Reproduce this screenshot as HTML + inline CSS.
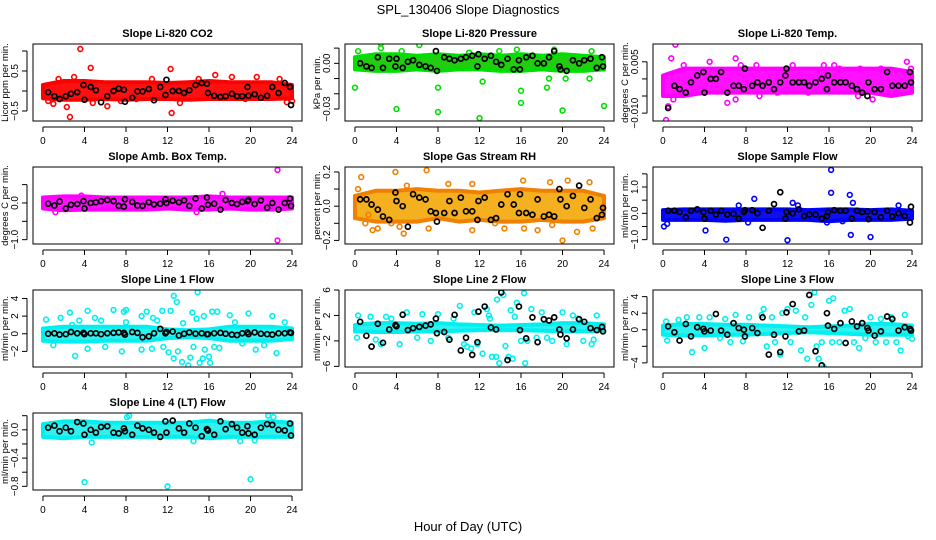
<!DOCTYPE html>
<html><head><meta charset="utf-8"><style>
html,body{margin:0;padding:0;background:#fff;}
svg{display:block;font-family:"Liberation Sans",Arial,sans-serif;}
</style></head><body>
<svg id="chart" width="936" height="540" viewBox="0 0 936 540" xmlns="http://www.w3.org/2000/svg">
<text x="468" y="14" text-anchor="middle" font-size="13">SPL_130406  Slope Diagnostics</text>
<text x="468" y="531" text-anchor="middle" font-size="13">Hour of Day (UTC)</text>
</svg>
<script>
const blackX=[0.5,1.1,1.6,2.2,2.7,3.3,3.9,4.0,4.6,5.1,5.6,6.2,6.8,7.3,7.8,7.9,8.6,9.1,9.6,10.2,10.7,11.3,11.8,11.9,12.5,13.1,13.6,14.1,14.7,15.3,15.8,15.9,16.5,17.1,17.6,18.2,18.7,19.2,19.7,19.8,20.4,21.0,21.6,22.1,22.7,23.3,23.8,23.9];
const bandHours=[0,2,4,6,8,10,12,14,16,18,20,22,24];
const xTicks=[0,4,8,12,16,20,24];

const p1Black=[-0.03,-0.13,-0.2,-0.13,-0.07,-0.03,0.15,-0.22,0.1,0.02,-0.28,-0.13,0,0.06,0.03,-0.27,-0.17,-0.01,-0.01,0.05,-0.23,0.1,-0.1,0.28,0,0,-0.05,0.02,0.15,0.2,0.18,-0.05,-0.12,-0.15,-0.13,-0.07,-0.13,-0.13,0.1,-0.12,-0.08,-0.17,-0.12,0.1,-0.05,0.2,0.1,-0.35];
const p1BandLo=[-0.18,-0.22,-0.22,-0.2,-0.22,-0.2,-0.2,-0.22,-0.2,-0.2,-0.2,-0.2,-0.18];
const p1BandHi=[0.15,0.25,0.25,0.22,0.22,0.22,0.2,0.22,0.25,0.22,0.22,0.22,0.15];
const p1OutX=[3.6,4.6,12.3,12.4,2.6,2.3,6.2,0.5,1,16.6,18.2,20.6,24,13.2,7.5,9,15,1.5,3,22.8,10.5,4.8,19.5,23.5];
const p1OutY=[1.05,0.58,0.55,-0.55,-0.65,-0.4,-0.38,-0.25,-0.32,0.4,0.35,0.35,-0.25,-0.3,-0.25,-0.2,0.3,0.3,0.35,0.3,0.3,-0.3,-0.2,-0.28];
const p1Ticks=[-0.5,0,0.5,1.0];
const p1Labels=["-0.5","","0.5",""];

const p2Black=[0.000,-0.002,-0.003,0.004,-0.003,0.003,-0.002,0.003,-0.003,0.001,0.002,-0.001,-0.002,-0.003,0.008,-0.005,0.004,0.003,0.002,0.003,0.004,0.005,-0.002,0.006,0.003,0.005,0.001,-0.001,0.003,-0.004,0.002,-0.004,0.004,0.005,0.0,0.0,0.004,0.008,-0.002,-0.004,-0.005,0.002,0,0.002,0.003,-0.003,0.004,-0.002];
const p2BandLo=[-0.004,-0.005,-0.005,-0.004,-0.005,-0.004,-0.004,-0.005,-0.005,-0.004,-0.005,-0.005,-0.004];
const p2BandHi=[0.004,0.006,0.006,0.005,0.006,0.005,0.006,0.005,0.006,0.005,0.006,0.005,0.004];
const p2OutX=[0,0.3,2.5,2.5,4,8,8,12,12.3,15.6,16,16,18.5,18.7,20,19.2,22.8,24,6.2,4.5,22.6,20.3,13.9,11];
const p2OutY=[-0.016,0.008,0.013,0.010,-0.030,-0.032,-0.016,-0.036,-0.012,0.009,-0.018,-0.026,-0.016,-0.010,-0.031,0.009,0.008,-0.028,0.012,0.008,-0.010,-0.010,0.008,0.007];
const p2Ticks=[-0.03,-0.02,-0.01,0,0.01];
const p2Labels=["-0.03","","","0.00",""];

const p3Black=[-0.0085,-0.002,-0.003,-0.004,-0.001,0.001,0.002,-0.004,0.0,0.0,0.002,-0.004,-0.002,-0.002,-0.003,0.003,-0.002,-0.001,-0.002,-0.001,-0.003,-0.001,0.001,0.003,-0.001,-0.001,-0.001,-0.002,-0.001,0.000,-0.003,0.001,-0.001,-0.001,-0.001,-0.002,-0.003,-0.004,-0.005,-0.001,-0.003,-0.003,0.002,-0.002,-0.002,-0.002,0.002,-0.001];
const p3BandLo=[-0.005,-0.005,-0.004,-0.004,-0.004,-0.004,-0.004,-0.004,-0.004,-0.004,-0.004,-0.005,-0.004];
const p3BandHi=[0.001,0.003,0.003,0.003,0.003,0.003,0.003,0.003,0.003,0.003,0.003,0.003,0.002];
const p3OutX=[0.3,1.2,0.8,4.5,7.0,7.5,9,6.2,7.0,9.3,18.8,20.2,23.5,23.9,0.5,1,2.0,12.5,15.5,16.5,19,14,11,3,17,22.5,21];
const p3OutY=[-0.012,0.010,0.006,0.005,0.006,0.004,0.004,-0.007,-0.006,-0.005,-0.005,-0.006,0.005,0.003,-0.008,-0.006,0.004,0.004,0.004,0.004,0.003,-0.004,-0.004,-0.004,0.003,-0.004,0.003];
const p3Ticks=[-0.01,-0.005,0,0.005];
const p3Labels=["-0.010","","","0.005"];

const p4Black=[-0.02,-0.07,0.04,-0.15,-0.05,-0.03,0.05,-0.15,0.0,0.02,0.05,0.08,0.05,-0.08,-0.1,0.1,0.03,-0.07,-0.08,0.02,-0.04,-0.02,0.1,0.0,0.06,0.02,0.07,-0.08,0.12,-0.15,0.15,-0.05,-0.02,-0.18,0.08,0,-0.03,0.03,0.05,0.08,-0.03,0.07,-0.13,0,-0.18,0.0,0.12,-0.08];
const p4BandLo=[-0.15,-0.2,-0.18,-0.18,-0.18,-0.18,-0.15,-0.18,-0.18,-0.15,-0.18,-0.18,-0.15];
const p4BandHi=[0.15,0.18,0.18,0.15,0.15,0.15,0.15,0.15,0.18,0.15,0.15,0.15,0.15];
const p4OutX=[22.6,22.6,17.3,14.8,1.2,3.7];
const p4OutY=[0.9,-1.02,0.25,-0.25,-0.25,0.2];
const p4Ticks=[-1.0,-0.5,0,0.5];
const p4Labels=["-1.0","","0.0",""];

const p5Black=[0.04,0.04,0.01,-0.02,-0.06,-0.08,0.08,0.03,0,-0.12,0.07,0.05,0.04,-0.03,-0.04,-0.09,-0.04,0.03,-0.04,0.05,-0.03,-0.03,-0.08,0.03,0.05,-0.08,-0.07,0.01,0.07,0.01,-0.04,0.07,-0.04,-0.05,0.04,-0.06,-0.05,-0.06,0.1,0.04,0.0,0.06,0.12,-0.01,0.04,-0.07,-0.05,-0.01];
const p5BandLo=[-0.07,-0.09,-0.09,-0.09,-0.07,-0.09,-0.08,-0.09,-0.09,-0.08,-0.09,-0.09,-0.07];
const p5BandHi=[0.06,0.09,0.09,0.1,0.09,0.09,0.08,0.09,0.1,0.09,0.09,0.09,0.06];
const p5OutX=[0.6,3.9,6.9,1.7,2.2,4.7,7.1,11.3,14.4,16.3,17.6,20,20.5,22.6,21.4,22.9,11.3,16.2,18.8,9,3.5,13.5,1,19,5,0.3,1.3,4.3];
const p5OutY=[0.17,0.2,0.21,-0.14,-0.13,-0.16,-0.13,-0.14,-0.13,-0.13,-0.14,-0.2,0.15,0.14,-0.15,-0.13,0.13,0.15,0.14,0.13,-0.1,-0.1,-0.1,-0.11,0.12,0.1,-0.05,-0.12];
const p5Ticks=[-0.2,-0.1,0,0.1,0.2];
const p5Labels=["-0.2","","0.0","","0.2"];

const p6Black=[0.1,0.1,0.05,-0.15,0.1,0.15,0.05,-0.2,0.1,-0.05,0.1,-0.05,-0.02,-0.2,0.05,0.12,0.12,0.0,-0.55,0.1,0.35,0.8,-0.2,0.05,0,0.15,-0.1,-0.05,-0.05,-0.2,-0.1,0.05,0.12,0.1,0.1,-0.2,0.1,0.05,0.07,-0.22,0.05,-0.15,0.1,-0.12,0.0,-0.1,-0.35,0.25];
const p6BandLo=[-0.25,-0.25,-0.25,-0.28,-0.25,-0.25,-0.25,-0.25,-0.3,-0.25,-0.25,-0.25,-0.2];
const p6BandHi=[0.12,0.15,0.15,0.15,0.15,0.15,0.15,0.12,0.15,0.15,0.12,0.15,0.1];
const p6OutX=[0.1,0.4,4.1,6.1,8.8,12,16.2,16.2,18,18.1,18.3,20,7.3,12.5,13,22.7,15.8,8.2,17.3];
const p6OutY=[-0.5,-0.4,-0.65,-1.0,0.55,-1.02,1.65,0.78,0.7,-0.82,0.4,-0.9,0.3,0.4,0.3,0.3,-0.35,-0.35,-0.3];
const p6Ticks=[-1.0,-0.5,0,0.5,1.0,1.5];
const p6Labels=["-1.0","","0.0","","1.0",""];

const p7Black=[0,0.05,-0.1,-0.05,0.2,0.05,0.1,-0.05,0.05,0.05,-0.05,0.05,0.1,0.15,0.1,-0.1,0.2,0.1,-0.4,-0.3,0.05,0.55,0.05,0.2,0.25,-0.2,0,0.15,0,0.05,-0.05,-0.05,0.05,0.1,0,-0.1,-0.15,0.05,0.15,-0.05,0.15,0,-0.05,-0.1,0.05,0.05,0.15,0.1];
const p7BandLo=[-0.8,-0.9,-0.9,-0.8,-0.8,-0.8,-0.5,-0.4,-0.5,-0.8,-0.8,-0.8,-0.6];
const p7BandHi=[0.6,0.8,0.8,0.8,0.8,0.8,0.5,0.4,0.5,0.8,0.8,0.8,0.6];
const p7OutX=[0.3,1.7,2.6,3.1,4.3,5,5.6,6.8,7.8,7.6,8,9.5,10,10.6,11.5,11.6,12.3,12.6,12.9,12.6,13,13.4,14,14.2,14.4,14.9,14.5,15.1,15.4,15.5,16,16.1,16.3,16.8,17,18,19.8,20.5,21.3,22.1,22.5,23.3,9.5,10.5,6.0,4.3,1,2.8,8,13.5,14.8,18.5,12.1,15.6,16.5,11,3.5,19.2];
const p7OutY=[1.6,1.8,2.4,-2.5,2.6,1.8,1.5,2.7,2.5,-2,2.7,2.0,2.5,1.8,2.6,-1.5,2.6,4.3,3.6,-2.8,-2,-3.2,-3.6,-2.7,2.4,4.7,-1.5,-3.3,-2.8,2,-2.6,-3.3,2.5,2.5,-1.6,2.1,2.3,-1.8,-1.3,2,-2.2,1.3,-1.8,-1.7,-1.5,-1.7,-1.3,1,1.3,1.2,1.7,1.3,-2.1,-1.8,-1.5,1.5,1.5,-1.1];
const p7Ticks=[-2,0,2,4];
const p7Labels=["-2","0","2","4"];

const p8Black=[1.0,-1.2,-2.9,0.7,-2.3,-0.2,0.5,0.3,2.1,-0.3,0,0.2,0.4,0.6,1.5,-0.8,-0.6,-1.8,2.1,-3.5,-1.5,-4.2,-2.2,2.6,3.4,0.1,-0.2,5.6,-5.0,-7.3,3.4,-0.3,-1.6,1.7,-2.2,1.4,1.2,1.7,-0.2,-1.0,-1.6,-0.2,1.4,1.0,0.0,-0.3,0.2,-0.5];
const p8BandLo=[-0.5,-0.6,-0.6,-0.5,-0.5,-0.4,-0.3,-0.3,-0.3,-0.4,-0.5,-0.5,-0.4];
const p8BandHi=[0.5,0.8,0.8,0.7,0.8,0.6,0.5,0.4,0.5,0.6,0.8,0.8,0.6];
const p8OutX=[0.3,0.2,2.5,3.5,4.3,4.6,5,6.5,7.3,8,9,10.1,10.5,11.5,11.8,12.3,12.7,12.9,13.2,13.6,13.7,13.9,14.3,14.5,14.8,15,15.2,15.4,15.6,16,16.3,16.4,16.6,17,17.5,18,19,20,20.4,21,22,22.8,23.3,1.5,3,6,9.5,13,18.5,21.5,23,2,10.8,11.2];
const p8OutY=[2,-1.5,-2.5,1.5,-2.5,2.2,2.5,2.2,-2,2.2,-1.5,3.5,-2.5,2.5,-2.5,-4,3,2,-4.5,-4.5,4.5,-5.5,5.2,-2.8,-4.5,2.8,-4.8,1.8,4,-2,5.5,-5.5,-2,3,-1.5,2.5,-2,2.5,-2.5,2,-2,-2.5,2,1.8,1.8,-1.5,1.5,1.5,-1.5,1.5,-1.8,-1.8,-2.9,-3.2];
const p8Ticks=[-6,-2,2,6];
const p8Labels=["-6","-2","2","6"];

const p9Black=[0.4,-0.3,-1.3,0.7,-0.8,0.3,0.1,-0.2,-0.1,1.9,-0.1,-0.6,0.8,0.2,0.0,-0.8,0.2,-0.4,1.5,-3.0,-0.6,-2.7,-0.8,2.1,3.1,-0.2,-0.1,4.2,-2.6,-4.3,2.0,0.5,0.1,0.8,-1.6,1.0,0.4,0.8,0.2,-0.1,-0.7,-0.2,1.6,1.3,-0.1,0.3,0.1,-0.1];
const p9BandLo=[-0.6,-0.7,-0.7,-0.6,-0.6,-0.5,-0.4,-0.3,-0.4,-0.5,-0.6,-0.6,-0.6];
const p9BandHi=[0.5,0.7,0.7,0.6,0.6,0.5,0.4,0.3,0.4,0.5,0.7,0.7,0.5];
const p9OutX=[0.3,0.4,1.5,2.3,2.8,3.5,4,4.5,5.5,6,6.5,7,7.7,8.3,9.5,9.7,10,10.5,10.8,11.3,11.5,12,12.3,12.8,13.3,13.7,13.9,14.3,14.6,14.8,15,15.3,15.5,16,16.3,16.4,17,17.5,18,18.4,18.9,19.5,20,20.5,21,21.5,22,22.5,22.9,23.3,23.6,24];
const p9OutY=[1,-1.3,1.2,1.5,-2.7,1.5,-2.2,1.5,-1,1.3,-1.5,1.8,-1.4,1.5,1.8,2.5,-2,1.5,-1.5,-3,2,2.5,-1.5,2.3,-2.5,1.5,-3.5,3,4.5,-2,-3.5,-1.5,-4.5,3.5,-1.5,3.8,-1.5,2.3,2.5,-1.5,-2.2,-1,1.5,-1.5,1.3,-1.5,1.5,-1.5,-2.5,1.8,-0.8,-1.1];
const p9Ticks=[-4,-2,0,2,4];
const p9Labels=["-4","","0","2","4"];

const p10Black=[0.03,0.06,-0.02,0.03,-0.02,0.11,0.09,-0.07,0.0,-0.04,0.04,0.05,-0.04,-0.05,0.02,-0.02,-0.07,0.06,0.02,0.0,-0.04,-0.1,0.12,-0.04,0.13,0.02,-0.04,0.09,0.03,-0.09,0.01,-0.01,-0.07,0.12,0.01,0.08,0.03,-0.04,0.05,-0.05,-0.07,0.03,0.08,0.07,0.0,-0.01,0.09,-0.08];
const p10BandLo=[-0.1,-0.12,-0.1,-0.1,-0.1,-0.1,-0.1,-0.1,-0.12,-0.1,-0.1,-0.1,-0.1];
const p10BandHi=[0.08,0.12,0.12,0.1,0.1,0.1,0.1,0.1,0.13,0.1,0.1,0.12,0.1];
const p10OutX=[4,12,20,4.7,19,8.3,8.1,21.7,22.2,14.5,20.4];
const p10OutY=[-0.74,-0.8,-0.7,-0.18,-0.16,0.2,0.18,0.2,0.18,-0.16,-0.15];
const p10Ticks=[-0.8,-0.6,-0.4,-0.2,0,0.2];
const p10Labels=["-0.8","","-0.4","","0.0",""];

const panels=[
 {name:"co2",title:"Slope Li-820 CO2",ylab:"Licor ppm per min.",col:0,row:0,ymin:-0.75,ymax:1.175,color:"#ff0000",band:"#ff1010",black:p1Black,lo:p1BandLo,hi:p1BandHi,ox:p1OutX,oy:p1OutY,ticks:p1Ticks,labels:p1Labels},
 {name:"pressure",title:"Slope Li-820 Pressure",ylab:"kPa per min.",col:1,row:0,ymin:-0.0379,ymax:0.0127,color:"#00e000",band:"#22cc11",black:p2Black,lo:p2BandLo,hi:p2BandHi,ox:p2OutX,oy:p2OutY,ticks:p2Ticks,labels:p2Labels},
 {name:"temp",title:"Slope Li-820 Temp.",ylab:"degrees C per min.",col:2,row:0,ymin:-0.0123,ymax:0.0102,color:"#ff00ff",band:"#ff10ff",black:p3Black,lo:p3BandLo,hi:p3BandHi,ox:p3OutX,oy:p3OutY,ticks:p3Ticks,labels:p3Labels},
 {name:"amb-box-temp",title:"Slope Amb. Box Temp.",ylab:"degrees C per min.",col:0,row:1,ymin:-1.118,ymax:0.98,color:"#ff00ff",band:"#ff10ff",black:p4Black,lo:p4BandLo,hi:p4BandHi,ox:p4OutX,oy:p4OutY,ticks:p4Ticks,labels:p4Labels},
 {name:"gas-stream-rh",title:"Slope Gas Stream RH",ylab:"percent per min.",col:1,row:1,ymin:-0.221,ymax:0.229,color:"#f08000",band:"#f5b020",black:p5Black,lo:p5BandLo,hi:p5BandHi,ox:p5OutX,oy:p5OutY,ticks:p5Ticks,labels:p5Labels},
 {name:"sample-flow",title:"Slope Sample Flow",ylab:"ml/min per min.",col:2,row:1,ymin:-1.165,ymax:1.76,color:"#0000ff",band:"#1010ee",black:p6Black,lo:p6BandLo,hi:p6BandHi,ox:p6OutX,oy:p6OutY,ticks:p6Ticks,labels:p6Labels},
 {name:"line1-flow",title:"Slope Line 1 Flow",ylab:"ml/min per min.",col:0,row:2,ymin:-3.77,ymax:4.96,color:"#00f0f0",band:"#30f0f0",black:p7Black,lo:p7BandLo,hi:p7BandHi,ox:p7OutX,oy:p7OutY,ticks:p7Ticks,labels:p7Labels},
 {name:"line2-flow",title:"Slope Line 2 Flow",ylab:"ml/min per min.",col:1,row:2,ymin:-6.1,ymax:6.0,color:"#00f0f0",band:"#30f0f0",black:p8Black,lo:p8BandLo,hi:p8BandHi,ox:p8OutX,oy:p8OutY,ticks:p8Ticks,labels:p8Labels},
 {name:"line3-flow",title:"Slope Line 3 Flow",ylab:"ml/min per min.",col:2,row:2,ymin:-4.5,ymax:4.8,color:"#00f0f0",band:"#30f0f0",black:p9Black,lo:p9BandLo,hi:p9BandHi,ox:p9OutX,oy:p9OutY,ticks:p9Ticks,labels:p9Labels},
 {name:"line4-flow",title:"Slope Line 4 (LT) Flow",ylab:"ml/min per min.",col:0,row:3,ymin:-0.852,ymax:0.238,color:"#00f0f0",band:"#30f0f0",black:p10Black,lo:p10BandLo,hi:p10BandHi,ox:p10OutX,oy:p10OutY,ticks:p10Ticks,labels:p10Labels}
];

const NS="http://www.w3.org/2000/svg";
const svg=document.getElementById('chart');
const colLeft=[33,345,653], rowTop=[44,167,290,413], W=269, H=77;
function mk(tag,attrs,parent){const e=document.createElementNS(NS,tag);for(const k in attrs)e.setAttribute(k,attrs[k]);parent.appendChild(e);return e;}

panels.forEach(p=>{
  const L=colLeft[p.col], T=rowTop[p.row];
  const g=mk('g',{},svg);
  
  
  const xs=h=>L+(h+0.96)/25.92*W;
  const ys=v=>T+H-(v-p.ymin)/(p.ymax-p.ymin)*H;
  const clipId='clip-'+p.name;
  const cp=mk('clipPath',{id:clipId},g); mk('rect',{x:L,y:T,width:W,height:H},cp);
  const plot=mk('g',{'clip-path':'url(#'+clipId+')'},g);
  
  
  let pts=bandHours.map((h,i)=>xs(h)+','+ys(p.hi[i]));
  pts=pts.concat(bandHours.slice().reverse().map((h,j)=>xs(h)+','+ys(p.lo[bandHours.length-1-j])));
  const band=mk('polygon',{points:pts.join(' '),fill:p.band,stroke:p.color,'stroke-width':4,'stroke-linejoin':'round'},plot);
  
  
  p.ox.forEach((x,i)=>{
    const c=mk('circle',{cx:xs(x),cy:ys(p.oy[i]),r:2.4,fill:'none',stroke:p.color,'stroke-width':1.6},plot);
    
    
  });
  blackX.forEach((x,i)=>{
    if(p.black[i]===undefined)return;
    const c=mk('circle',{cx:xs(x),cy:ys(p.black[i]),r:2.5,fill:'none',stroke:'#000','stroke-width':1.7},plot);
    
    
  });
  const box=mk('rect',{x:L,y:T,width:W,height:H,fill:'none',stroke:'#000','stroke-width':1},g);
  
  
  const ax=T+H+6;
  const xl=mk('line',{x1:xs(0),x2:xs(24),y1:ax,y2:ax,stroke:'#000'},g);
  
  
  xTicks.forEach(t=>{
    mk('line',{x1:xs(t),x2:xs(t),y1:ax,y2:ax+5,stroke:'#000'},g);
    const tx=mk('text',{x:xs(t),y:ax+17,'text-anchor':'middle','font-size':10},g);
    tx.textContent=t;
    
    
  });
  const axx=L-6;
  const yl=mk('line',{x1:axx,x2:axx,y1:ys(p.ticks[0]),y2:ys(p.ticks[p.ticks.length-1]),stroke:'#000'},g);
  
  
  p.ticks.forEach((t,i)=>{
    mk('line',{x1:axx-5,x2:axx,y1:ys(t),y2:ys(t),stroke:'#000'},g);
    if(p.labels[i]){
      const tx=mk('text',{x:axx-9,y:ys(t),'text-anchor':'middle','font-size':10,transform:'rotate(-90 '+(axx-9)+' '+ys(t)+')'},g);
      tx.textContent=p.labels[i].replace('-','\u2212');
      
      
    }
  });
  const yt=mk('text',{x:L-25,y:T+H/2,'text-anchor':'middle','font-size':9.5,transform:'rotate(-90 '+(L-25)+' '+(T+H/2)+')'},g);
  yt.textContent=p.ylab;
  
  
  const tt=mk('text',{x:L+W/2,y:T-7,'text-anchor':'middle','font-size':11,'font-weight':'bold'},g);
  tt.textContent=p.title;
  
  
});
</script>
</body></html>
